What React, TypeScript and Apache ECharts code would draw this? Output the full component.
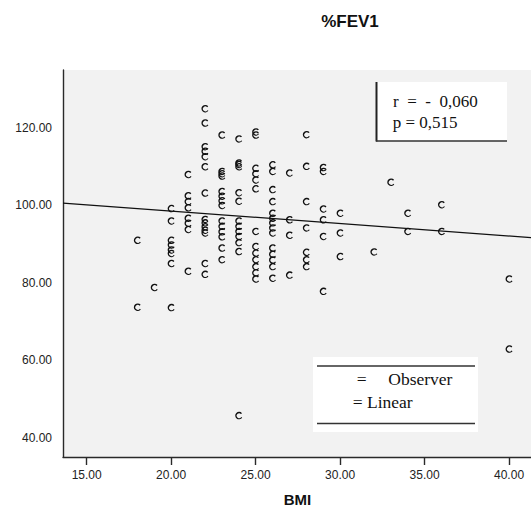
import React, { useEffect, useRef } from "react";
import * as echarts from "echarts";

// ---- data ----
const BMI_GROUPS = [18, 19, 20, 21, 22, 23, 24, 25, 26, 27, 28, 29, 30, 32, 33, 34, 36, 40];
const FEV1_GROUPS = [
  [91, 73.7],
  [78.8],
  [99.2, 96, 91, 89.8, 88.5, 87.6, 85, 73.6],
  [108, 102.5, 101, 99.4, 96.7, 95.4, 93.8, 83],
  [125, 121.3, 115.2, 114, 112.6, 110, 103.2, 96.4, 95.5, 94.5, 93.6, 92.9, 85, 82.2],
  [118.2, 108.8, 108.2, 107.6, 103.6, 102.4, 101.2, 100, 96, 94.6, 93.2, 91.9, 89, 86],
  [117.2, 111, 110.6, 110, 103.3, 101.1, 96, 94.6, 93.3, 92, 90.4, 88.1, 45.7],
  [119, 118.2, 109.6, 108.2, 106.6, 104.3, 93.3, 89.4, 87.7, 86, 84.2, 82.6, 81],
  [110.5, 108.8, 104.1, 101, 98, 96.7, 95.5, 94.2, 92.9, 89, 87.4, 85.9, 84.2, 81.2],
  [108.4, 96.3, 92.3, 82],
  [118.3, 110.1, 101, 94.2, 87.9, 86, 84.2],
  [109.8, 108.8, 99.1, 96.3, 92, 77.8],
  [98, 92.9, 86.8],
  [88],
  [106],
  [98, 93.3],
  [100.2, 93.3],
  [81, 62.9],
];
const X_TICKS = [15, 20, 25, 30, 35, 40];
const Y_TICKS = [40, 60, 80, 100, 120];
const X_RANGE = [13.6, 41.3];
const Y_RANGE = [35, 135];
const FIT_X = [13.6, 41.3];
const FIT_Y = [100.6, 91.7];
const TITLE = "%FEV1";
const X_NAME = "BMI";
const STAT_LINES = ["r  =  -  0,060", "p = 0,515"];
const LEGEND_EQ = "=";
const LEGEND_OBS = "Observer";
const LEGEND_LIN = "= Linear";

const C_SYMBOL =
  "path://M8.447 2.107A4.5 4.5 0 1 0 8.686 7.581L7.55 6.79A2.9 2.9 0 1 1 7.22 3.14Z";

const SANS = '"Liberation Sans", Arial, sans-serif';
const SERIF = '"Liberation Serif", "Times New Roman", serif';

function txt(text: string, x: number, y: number, font: string, align = "left") {
  return {
    type: "text",
    x,
    y,
    z: 100,
    style: {
      text,
      font,
      fill: "#111",
      align,
      verticalAlign: "middle",
      textAlign: align,
      textVerticalAlign: "middle",
    },
  };
}

export default function App() {
  const ref = useRef<HTMLDivElement>(null);

  useEffect(() => {
    if (!ref.current) return;
    const chart = echarts.init(ref.current, undefined, { renderer: "svg" });

    const points: number[][] = [];
    BMI_GROUPS.forEach((b, i) => {
      FEV1_GROUPS[i].forEach((v) => points.push([b, v]));
    });

    chart.setOption({
      animation: false,
      grid: {
        left: 63,
        top: 70,
        right: 0,
        bottom: 50,
        show: true,
        backgroundColor: "#F2F2F2",
        borderWidth: 0,
        outerBoundsMode: "none",
      },
      xAxis: {
        type: "value",
        min: X_RANGE[0],
        max: X_RANGE[1],
        axisLine: { show: true, onZero: false, lineStyle: { color: "#2a2a2a", width: 1.4 } },
        axisTick: { show: true, length: 8, customValues: X_TICKS, lineStyle: { color: "#2a2a2a", width: 1.4 } },
        axisLabel: {
          customValues: X_TICKS,
          margin: 12,
          fontSize: 12,
          fontFamily: SANS,
          color: "#222",
          formatter: (v: number) => v.toFixed(2),
        },
        splitLine: { show: false },
      },
      yAxis: {
        type: "value",
        min: Y_RANGE[0],
        max: Y_RANGE[1],
        axisLine: { show: true, onZero: false, lineStyle: { color: "#2a2a2a", width: 1.4 } },
        axisTick: { show: false },
        axisLabel: {
          customValues: Y_TICKS,
          margin: 11,
          fontSize: 12,
          fontFamily: SANS,
          color: "#222",
          formatter: (v: number) => v.toFixed(2),
        },
        splitLine: { show: false },
      },
      series: [
        {
          type: "line",
          data: FIT_X.map((x, i) => [x, FIT_Y[i]]),
          symbol: "none",
          lineStyle: { color: "#111", width: 1.2 },
          z: 1,
          silent: true,
        },
        {
          type: "scatter",
          data: points,
          symbol: C_SYMBOL,
          symbolSize: [7, 7.5],
          itemStyle: { color: "#111", opacity: 1 },
          z: 2,
        },
      ],
      graphic: [
        txt(TITLE, 350, 21.5, `bold 17px ${SANS}`, "center"),
        txt(X_NAME, 297.5, 499, `bold 15px ${SANS}`, "center"),
        // stats box
        { type: "rect", z: 99, shape: { x: 376, y: 82, width: 131, height: 59 }, style: { fill: "#fff" } },
        { type: "line", z: 100, shape: { x1: 376.5, y1: 82, x2: 376.5, y2: 141.5 }, style: { stroke: "#222", lineWidth: 2 } },
        { type: "line", z: 100, shape: { x1: 376, y1: 141, x2: 507, y2: 141 }, style: { stroke: "#333", lineWidth: 1.5 } },
        txt(STAT_LINES[0], 393, 101, `17px ${SERIF}`),
        txt(STAT_LINES[1], 392.7, 122.5, `17px ${SERIF}`),
        // legend box
        { type: "rect", z: 99, shape: { x: 313, y: 357, width: 165, height: 75 }, style: { fill: "#fff" } },
        { type: "line", z: 100, shape: { x1: 317, y1: 366, x2: 475, y2: 366 }, style: { stroke: "#333", lineWidth: 1.5 } },
        { type: "line", z: 100, shape: { x1: 317, y1: 423.5, x2: 475, y2: 423.5 }, style: { stroke: "#333", lineWidth: 1.5 } },
        txt(LEGEND_EQ, 356.7, 379, `17.5px ${SERIF}`),
        txt(LEGEND_OBS, 388.3, 379, `17.5px ${SERIF}`),
        txt(LEGEND_LIN, 352.7, 401.7, `17.5px ${SERIF}`),
      ],
    });

    return () => chart.dispose();
  }, []);

  return (
    <div
      ref={ref}
      style={{ position: "fixed", left: 0, top: 0, width: 531, height: 507, background: "#fff" }}
    />
  );
}
